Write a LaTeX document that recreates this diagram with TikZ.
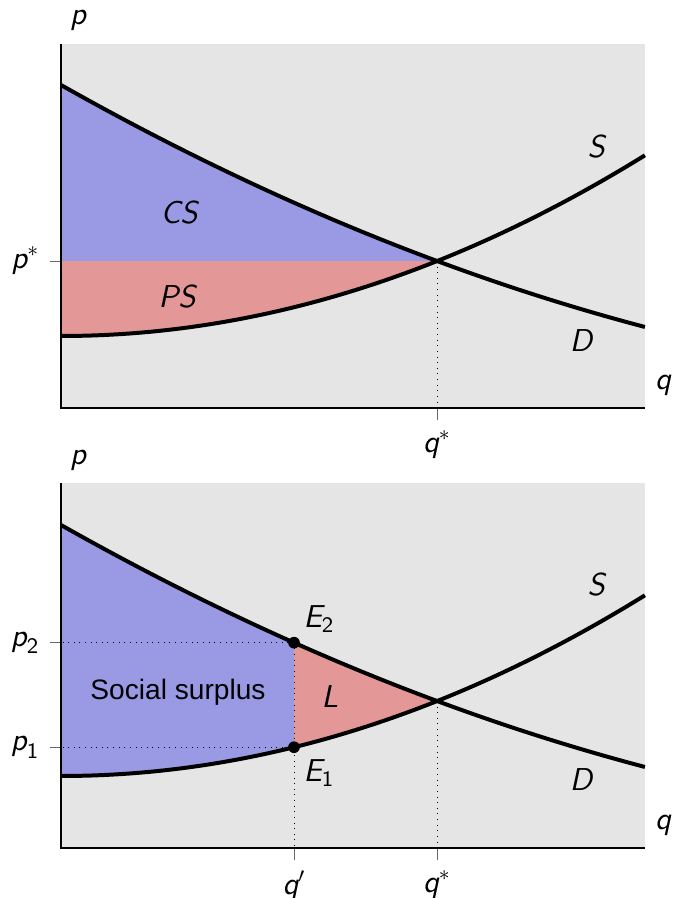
\documentclass[tikz,border=0pt]{standalone}
\usepackage{fontspec}
\newfontfamily\arialfont{Liberation Sans}
\usetikzlibrary{positioning}
\definecolor{csblue}{RGB}{154,154,228}
\definecolor{psred}{RGB}{228,151,151}
\definecolor{bggray}{RGB}{229,229,229}
\newcommand{\sv}[1]{\textsf{\itshape #1}}

\begin{document}
\begin{tikzpicture}[x=1.5cm,y=1.5cm,
declare function={dem(\q)=3.23-0.56516*\q+0.02582*\q*\q;
sup(\q)=0.72+0.053*\q*\q;},
curve/.style={line width=1.7pt},
axis/.style={line width=0.6pt},
tick/.style={black!60,line width=0.4pt},
guide/.style={dotted,line width=0.4pt},
lbl/.style={font=\fontsize{13.5}{16}\selectfont},
dot/.style={circle,fill=black,inner sep=0pt,minimum size=5pt}]
\useasboundingbox (0,0) rectangle (6.73,8.98);

% top panel: surplus at equilibrium
\begin{scope}[shift={(0.61,4.90)}]
\coordinate (o1) at (0,0);
\coordinate (eq1) at (3.76,{dem(3.76)});
\fill[bggray] (o1) rectangle (5.84,3.64);
\fill[csblue] (0,{dem(0)}) -- plot[domain=0:3.76,samples=40] (\x,{dem(\x)})
-- (eq1 -| o1) -- cycle;
\fill[psred] (eq1 -| o1) -- (eq1) -- plot[domain=3.76:0,samples=40] (\x,{sup(\x)}) -- cycle;
\draw[guide] (eq1) -- (eq1 |- o1);
\draw[tick] (eq1 -| o1) -- ++(-0.11,0) coordinate (pt1);
\draw[tick] (eq1 |- o1) -- ++(0,-0.12) coordinate (qt1);
\draw[axis] (0,3.64) -- (o1) -- (5.84,0);
\draw[curve] plot[domain=0:5.84,samples=60] (\x,{dem(\x)});
\draw[curve] plot[domain=0:5.84,samples=60] (\x,{sup(\x)});
\node[lbl] (p1lab) at (0.17,3.88) {$\sv{p}$};
\node[lbl] (q1lab) at (6.02,0.23) {$\sv{q}$};
\node[lbl,left=1pt of pt1] (pstar) {$\sv{p}^*$};
\node[lbl,below=1pt of qt1] (qstar1) {$\sv{q}^*$};
\node[lbl] (cs) at (1.19,1.95) {\sv{CS}};
\node[lbl] (ps) at (1.17,1.11) {\sv{PS}};
\node[lbl] (s1) at (5.36,2.61) {\sv{S}};
\node[lbl] (d1) at (5.21,0.67) {\sv{D}};
\end{scope}

% bottom panel: loss at q'
\begin{scope}[shift={(0.61,0.50)}]
\coordinate (o2) at (0,0);
\coordinate (eq2) at (3.76,{dem(3.76)});
\coordinate (e2) at (2.33,{dem(2.33)});
\coordinate (e1) at (2.33,{sup(2.33)});
\fill[bggray] (o2) rectangle (5.84,3.65);
\fill[csblue] (0,{dem(0)}) -- plot[domain=0:2.33,samples=30] (\x,{dem(\x)})
-- (e1) -- plot[domain=2.33:0,samples=30] (\x,{sup(\x)}) -- cycle;
\fill[psred] plot[domain=2.33:3.76,samples=20] (\x,{dem(\x)})
-- plot[domain=3.76:2.33,samples=20] (\x,{sup(\x)}) -- cycle;
\draw[guide] (e2) -- (e2 -| o2);
\draw[guide] (e1) -- (e1 -| o2);
\draw[guide] (e2) -- (e2 |- o2);
\draw[guide] (eq2) -- (eq2 |- o2);
\draw[tick] (e2 -| o2) -- ++(-0.11,0) coordinate (pt2);
\draw[tick] (e1 -| o2) -- ++(-0.11,0) coordinate (pt3);
\draw[tick] (e2 |- o2) -- ++(0,-0.12) coordinate (qt2);
\draw[tick] (eq2 |- o2) -- ++(0,-0.12) coordinate (qt3);
\draw[axis] (0,3.65) -- (o2) -- (5.84,0);
\draw[curve] plot[domain=0:5.84,samples=60] (\x,{dem(\x)});
\draw[curve] plot[domain=0:5.84,samples=60] (\x,{sup(\x)});
\node[dot] (E2) at (e2) {};
\node[dot] (E1) at (e1) {};
\node[lbl] (p2lab) at (0.17,3.88) {$\sv{p}$};
\node[lbl] (q2lab) at (6.02,0.23) {$\sv{q}$};
\node[lbl,left=1pt of pt2] (ptwo) {$\sv{p}_{\mathsf{2}}$};
\node[lbl,left=1pt of pt3] (pone) {$\sv{p}_{\mathsf{1}}$};
\node[lbl,below=1pt of qt2] (qprime) {$\sv{q}'$};
\node[lbl,below=1pt of qt3] (qstar2) {$\sv{q}^*$};
\node[lbl] (e2lab) at ([shift={(0.25,0.24)}]E2) {$\sv{E}_{\mathsf{2}}$};
\node[lbl] (e1lab) at ([shift={(0.25,-0.26)}]E1) {$\sv{E}_{\mathsf{1}}$};
\node[lbl] (loss) at (2.69,1.51) {\sv{L}};
\node[lbl,font=\arialfont\fontsize{12}{14}\selectfont] (surplus) at (1.17,1.56) {Social surplus};
\node[lbl] (s2) at (5.36,2.63) {\sv{S}};
\node[lbl] (d2) at (5.21,0.68) {\sv{D}};
\end{scope}
\end{tikzpicture}
\end{document}
